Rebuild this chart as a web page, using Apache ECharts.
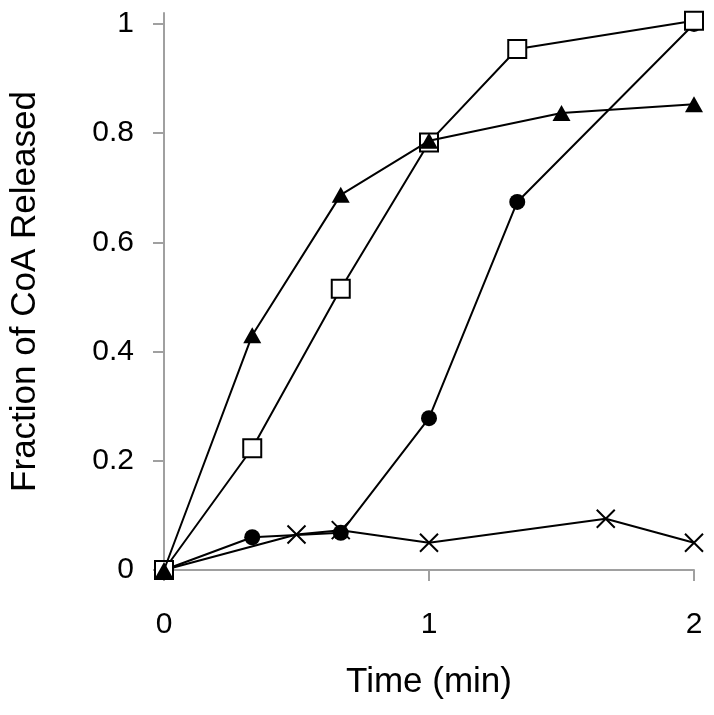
<!DOCTYPE html>
<html>
<head>
<meta charset="utf-8">
<script src="https://cdn.jsdelivr.net/npm/echarts@6/dist/echarts.min.js"></script>
<style>html,body{margin:0;padding:0;background:#fff}#c{width:714px;height:715px}</style>
</head>
<body>
<div id="c"></div>
<script>
const xTitle = 'Time (min)';
const yTitle = 'Fraction of CoA Released';
const yTicks = [0, 0.2, 0.4, 0.6, 0.8, 1];
const xTicks = [0, 1, 2];

const crossData = [[0, 0], [0.5, 0.065], [0.667, 0.073], [1, 0.05], [1.667, 0.094], [2, 0.05]];
const circleData = [[0, 0], [0.333, 0.06], [0.667, 0.068], [1, 0.278], [1.333, 0.674], [2, 1.0]];
const squareData = [[0, 0], [0.333, 0.223], [0.667, 0.515], [1, 0.783], [1.333, 0.954], [2, 1.006]];
const triangleData = [[0, 0], [0.333, 0.43], [0.667, 0.687], [1, 0.786], [1.5, 0.837], [2, 0.853]];

const font = '"Liberation Sans", Arial, sans-serif';
const chart = echarts.init(document.getElementById('c'));
const lineStyle = { color: '#000', width: 2 };
chart.setOption({
  animation: false,
  backgroundColor: '#fff',
  grid: { left: 161, right: 20, top: 13, bottom: 145 },
  xAxis: {
    type: 'value', min: 0, max: 2, interval: 1,
    name: xTitle, nameLocation: 'middle', nameGap: 95,
    nameTextStyle: { fontFamily: font, fontSize: 35, color: '#000' },
    axisLine: { lineStyle: { color: '#a0a0a0', width: 2 } },
    axisTick: { show: true, length: 11, lineStyle: { color: '#a0a0a0', width: 2 }, customValues: xTicks },
    axisLabel: { fontFamily: font, fontSize: 30, color: '#000', margin: 40, customValues: xTicks },
    splitLine: { show: false }
  },
  yAxis: {
    type: 'value', min: 0, max: 1.02, interval: 0.2,
    name: yTitle, nameLocation: 'middle', nameGap: 121,
    nameTextStyle: { fontFamily: font, fontSize: 35, color: '#000' },
    axisLine: { show: true, lineStyle: { color: '#a0a0a0', width: 2 } },
    axisTick: { show: true, length: 11, lineStyle: { color: '#a0a0a0', width: 2 }, customValues: yTicks },
    axisLabel: { fontFamily: font, fontSize: 30, color: '#000', margin: 30, customValues: yTicks },
    splitLine: { show: false }
  },
  series: [
    { type: 'line', data: crossData, symbol: 'path://M0,0L10,10M10,0L0,10', symbolSize: 18,
      lineStyle, itemStyle: { color: 'none', borderColor: '#000', borderWidth: 2 }, z: 2 },
    { type: 'line', data: circleData, symbol: 'circle', symbolSize: 16,
      lineStyle, itemStyle: { color: '#000', borderColor: '#000', borderWidth: 0 }, z: 3 },
    { type: 'line', data: squareData, symbol: 'rect', symbolSize: 18,
      lineStyle, itemStyle: { color: '#fff', borderColor: '#000', borderWidth: 2 }, z: 4 },
    { type: 'line', data: triangleData, symbol: 'triangle', symbolSize: [18, 16],
      lineStyle, itemStyle: { color: '#000', borderColor: '#000', borderWidth: 0 }, z: 5 }
  ]
});
</script>
</body>
</html>
